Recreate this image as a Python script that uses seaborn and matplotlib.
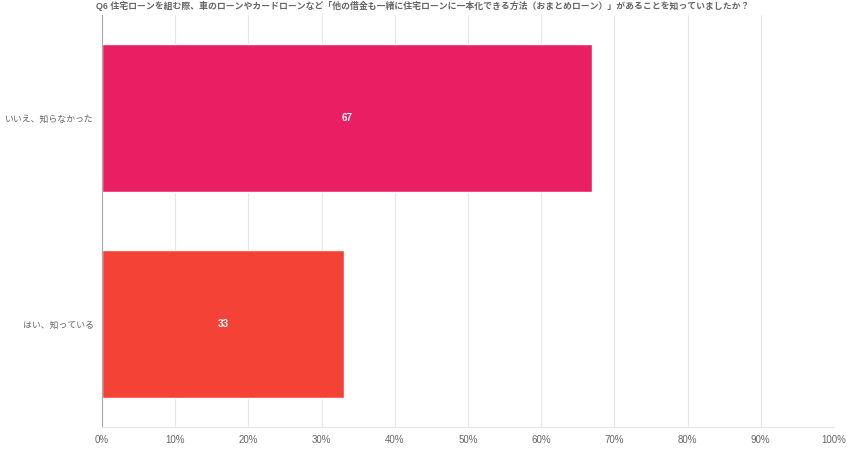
import matplotlib
matplotlib.use('Agg')
import matplotlib.pyplot as plt
import seaborn as sns
import pandas as pd
from matplotlib.ticker import FuncFormatter

# data
answers = ['いいえ、知らなかった', 'はい、知っている']
percent = [67, 33]
bar_colors = ['#E91E63', '#F44336']
title = 'Q6 住宅ローンを組む際、車のローンやカードローンなど「他の借金も一緒に住宅ローンに一本化できる方法（おまとめローン）」があることを知っていましたか？'

sns.set_theme(style='white')
plt.rcParams['font.family'] = ['Liberation Sans', 'Noto Sans CJK JP', 'DejaVu Sans']

df = pd.DataFrame({'answer': answers, 'percent': percent})

fig = plt.figure(figsize=(8.49, 4.5), dpi=100)
ax = fig.add_axes([102 / 849, 1 - 427 / 450, 732 / 849, 412 / 450])

sns.barplot(data=df, x='percent', y='answer', hue='answer', palette=bar_colors,
            orient='h', width=0.714, legend=False, ax=ax, saturation=1)

ax.set_xlim(0, 100)
ax.set_ylim(1.5, -0.5)
ax.set_xticks(range(0, 101, 10))
ax.xaxis.set_major_formatter(FuncFormatter(lambda v, _: f'{int(v)}%'))
ax.grid(axis='x', color='#e6e6e6', linewidth=0.8)
ax.set_axisbelow(True)
ax.set_xlabel('')
ax.set_ylabel('')
ax.tick_params(axis='x', length=0, labelsize=7, colors='#666666', pad=6)
ax.tick_params(axis='y', length=0, labelsize=6.4, colors='#666666', pad=6)

for side in ['top', 'right']:
    ax.spines[side].set_visible(False)
ax.spines['left'].set_color('#aaaaaa')
ax.spines['left'].set_linewidth(0.8)
ax.spines['bottom'].set_color('#e6e6e6')
ax.spines['bottom'].set_linewidth(0.8)

for i, v in enumerate(percent):
    ax.text(v / 2, i, str(v), ha='center', va='center', color='white',
            fontsize=7, fontweight='bold')

fig.text(96 / 849, 1 - 6 / 450, title, ha='left', va='center',
         fontsize=6.4, fontweight='bold', color='#666666')

fig.savefig('out.png', dpi=100)
